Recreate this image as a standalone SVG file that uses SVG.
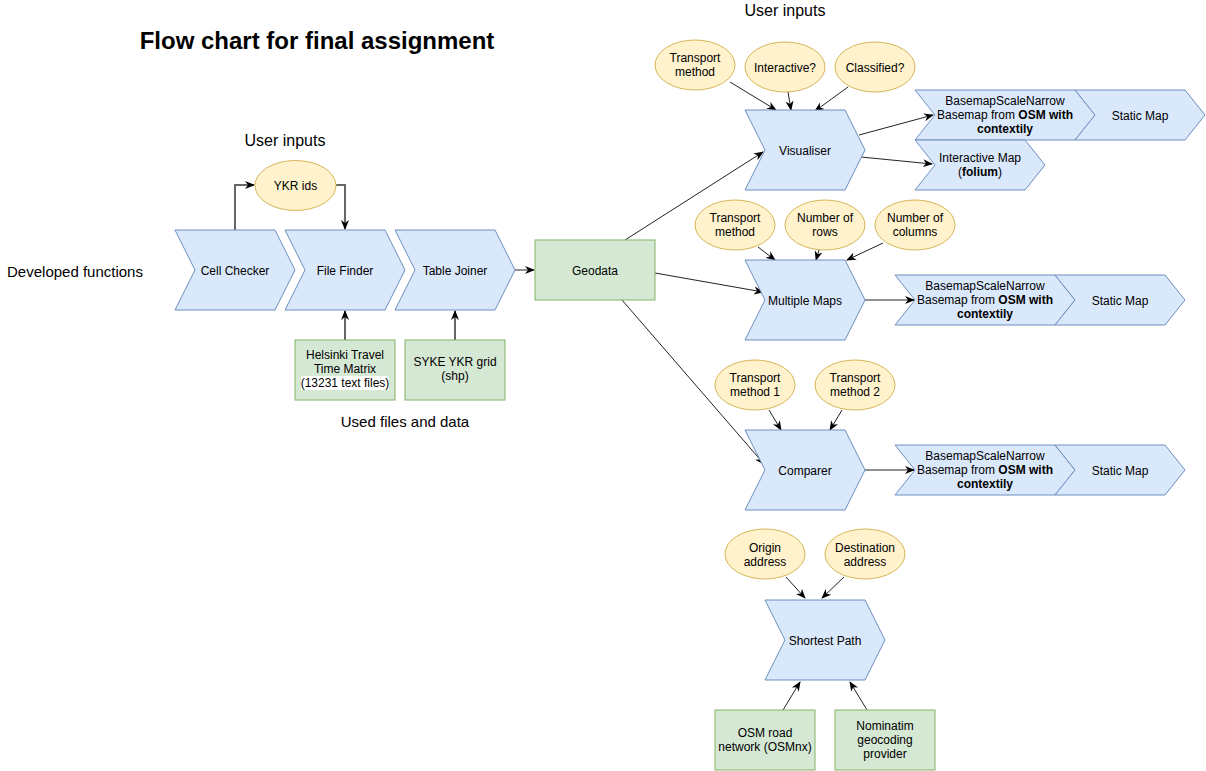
<svg xmlns="http://www.w3.org/2000/svg" width="1206" height="771" viewBox="0 0 1206 771">
<style>
text{font-family:"Liberation Sans",Arial,sans-serif;font-size:12px;fill:#000;text-anchor:middle;dominant-baseline:central}
.step{fill:#dae8fc;stroke:#6c8ebf;stroke-width:1}
.inp{fill:#fff2cc;stroke:#d6b656;stroke-width:1}
.dat{fill:#d5e8d4;stroke:#82b366;stroke-width:1}
.c{fill:none;stroke:#222;stroke-width:1;marker-end:url(#a)}
.g{fill:none;stroke:#666;stroke-width:2;marker-end:url(#a)}
.lbl{font-size:16px}
.b{font-weight:bold}
</style>
<defs>
<marker id="a" viewBox="0 0 10 10" refX="9" refY="5" markerWidth="10" markerHeight="10" markerUnits="userSpaceOnUse" orient="auto">
<path d="M0,1 L10,5 L0,9 L3,5 z" fill="#000"/>
</marker>
</defs>
<rect width="1206" height="771" fill="#fff"/>
<g id="labels">
<text x="317" y="40" class="b" style="font-size:24px">Flow chart for final assignment</text>
<text x="285" y="140" class="lbl">User inputs</text>
<text x="785" y="10" class="lbl">User inputs</text>
<text x="405" y="421" style="font-size:15px">Used files and data</text>
<text x="75" y="271" style="font-size:15px">Developed functions</text>
</g>
<g id="connectors">
<polyline class="g" points="235,230 235,185 254,185"/>
<polyline class="g" points="336,185 345,185 345,229"/>
<line class="g" x1="345" y1="340" x2="345" y2="311"/>
<line class="g" x1="455" y1="340" x2="455" y2="311"/>
<line class="c" x1="515" y1="270" x2="534" y2="270"/>
<line class="c" x1="625" y1="240" x2="763" y2="152"/>
<line class="c" x1="655" y1="273" x2="763" y2="292"/>
<line class="c" x1="622" y1="300" x2="764" y2="464"/>
<line class="c" x1="730" y1="82" x2="776" y2="110"/>
<line class="c" x1="788" y1="92" x2="791" y2="110"/>
<line class="c" x1="848" y1="87" x2="815" y2="111"/>
<line class="c" x1="859" y1="135" x2="933" y2="115"/>
<line class="c" x1="861" y1="157" x2="932" y2="164"/>
<line class="c" x1="758" y1="247" x2="775" y2="260"/>
<line class="c" x1="819" y1="250" x2="816" y2="260"/>
<line class="c" x1="883" y1="243" x2="847" y2="260"/>
<line class="c" x1="865" y1="300" x2="914" y2="300"/>
<line class="c" x1="769" y1="410" x2="781" y2="430"/>
<line class="c" x1="842" y1="410" x2="830" y2="430"/>
<line class="c" x1="865" y1="470" x2="914" y2="470"/>
<line class="c" x1="786" y1="577" x2="805" y2="598"/>
<line class="c" x1="844" y1="577" x2="822" y2="598"/>
<line class="c" x1="783" y1="710" x2="800" y2="682"/>
<line class="c" x1="867" y1="710" x2="850" y2="682"/>
</g>
<g id="cell-checker"><path class="step" d="M175,230 H275 L295,270 L275,310 H175 L195,270 Z"/><text x="235" y="271">Cell Checker</text></g>
<g id="file-finder"><path class="step" d="M285,230 H385 L405,270 L385,310 H285 L305,270 Z"/><text x="345" y="271">File Finder</text></g>
<g id="table-joiner"><path class="step" d="M395,230 H495 L515,270 L495,310 H395 L415,270 Z"/><text x="455" y="271">Table Joiner</text></g>
<g id="ykr-ids"><ellipse class="inp" cx="295.5" cy="185.5" rx="40.5" ry="25"/><text x="295.5" y="186">YKR ids</text></g>
<g id="helsinki"><rect class="dat" x="295" y="340" width="100" height="60"/><rect x="301" y="376" width="88" height="14" fill="#fff"/><text x="345" y="355">Helsinki Travel</text><text x="345" y="369">Time Matrix</text><text x="345" y="383">(13231 text files)</text></g>
<g id="syke"><rect class="dat" x="405" y="340" width="100" height="60"/><text x="455" y="362">SYKE YKR grid</text><text x="455" y="376">(shp)</text></g>
<g id="geodata"><rect class="dat" x="535" y="240" width="120" height="60"/><text x="595" y="271">Geodata</text></g>

<g id="vis-transport"><ellipse class="inp" cx="695" cy="65" rx="40" ry="25"/><text x="695" y="58">Transport</text><text x="695" y="72">method</text></g>
<g id="vis-interactive"><ellipse class="inp" cx="785" cy="67" rx="40" ry="25"/><text x="785" y="68">Interactive?</text></g>
<g id="vis-classified"><ellipse class="inp" cx="875" cy="67" rx="40" ry="25"/><text x="875" y="68">Classified?</text></g>
<g id="visualiser"><path class="step" d="M745,110 H845 L865,150 L845,190 H745 L765,150 Z"/><text x="805" y="151">Visualiser</text></g>
<g id="vis-basemap"><path class="step" d="M915,90 H1075 L1095,115 L1075,140 H915 L935,115 Z"/><text x="1005" y="101">BasemapScaleNarrow</text><text x="1005" y="115">Basemap from <tspan class="b">OSM with</tspan></text><text x="1005" y="129" class="b">contextily</text></g>
<g id="vis-static"><path class="step" d="M1075,90 H1185 L1205,115 L1185,140 H1075 L1095,115 Z"/><text x="1140" y="116">Static Map</text></g>
<g id="vis-interactive-map"><path class="step" d="M915,140 H1025 L1045,165 L1025,190 H915 L935,165 Z"/><text x="980" y="158">Interactive Map</text><text x="980" y="172">(<tspan class="b">folium</tspan>)</text></g>

<g id="mm-transport"><ellipse class="inp" cx="735" cy="225" rx="40" ry="25"/><text x="735" y="218">Transport</text><text x="735" y="232">method</text></g>
<g id="mm-rows"><ellipse class="inp" cx="825" cy="225" rx="40" ry="25"/><text x="825" y="218">Number of</text><text x="825" y="232">rows</text></g>
<g id="mm-columns"><ellipse class="inp" cx="915" cy="225" rx="40" ry="25"/><text x="915" y="218">Number of</text><text x="915" y="232">columns</text></g>
<g id="multiple-maps"><path class="step" d="M745,260 H845 L865,300 L845,340 H745 L765,300 Z"/><text x="805" y="301">Multiple Maps</text></g>
<g id="mm-basemap"><path class="step" d="M895,275 H1055 L1075,300 L1055,325 H895 L915,300 Z"/><text x="985" y="286">BasemapScaleNarrow</text><text x="985" y="300">Basemap from <tspan class="b">OSM with</tspan></text><text x="985" y="314" class="b">contextily</text></g>
<g id="mm-static"><path class="step" d="M1055,275 H1165 L1185,300 L1165,325 H1055 L1075,300 Z"/><text x="1120" y="301">Static Map</text></g>

<g id="cmp-transport1"><ellipse class="inp" cx="755" cy="385" rx="40" ry="25"/><text x="755" y="378">Transport</text><text x="755" y="392">method 1</text></g>
<g id="cmp-transport2"><ellipse class="inp" cx="855" cy="385" rx="40" ry="25"/><text x="855" y="378">Transport</text><text x="855" y="392">method 2</text></g>
<g id="comparer"><path class="step" d="M745,430 H845 L865,470 L845,510 H745 L765,470 Z"/><text x="805" y="471">Comparer</text></g>
<g id="cmp-basemap"><path class="step" d="M895,445 H1055 L1075,470 L1055,495 H895 L915,470 Z"/><text x="985" y="456">BasemapScaleNarrow</text><text x="985" y="470">Basemap from <tspan class="b">OSM with</tspan></text><text x="985" y="484" class="b">contextily</text></g>
<g id="cmp-static"><path class="step" d="M1055,445 H1165 L1185,470 L1165,495 H1055 L1075,470 Z"/><text x="1120" y="471">Static Map</text></g>

<g id="origin"><ellipse class="inp" cx="765" cy="554" rx="40" ry="25"/><text x="765" y="548">Origin</text><text x="765" y="562">address</text></g>
<g id="destination"><ellipse class="inp" cx="865" cy="554" rx="40" ry="25"/><text x="865" y="548">Destination</text><text x="865" y="562">address</text></g>
<g id="shortest-path"><path class="step" d="M765,600 H865 L885,640 L865,680 H765 L785,640 Z"/><text x="825" y="641">Shortest Path</text></g>
<g id="osm-road"><rect class="dat" x="715" y="710" width="100" height="60"/><text x="765" y="733">OSM road</text><text x="765" y="747">network (OSMnx)</text></g>
<g id="nominatim"><rect class="dat" x="835" y="710" width="100" height="60"/><text x="885" y="726">Nominatim</text><text x="885" y="740">geocoding</text><text x="885" y="754">provider</text></g>
</svg>
